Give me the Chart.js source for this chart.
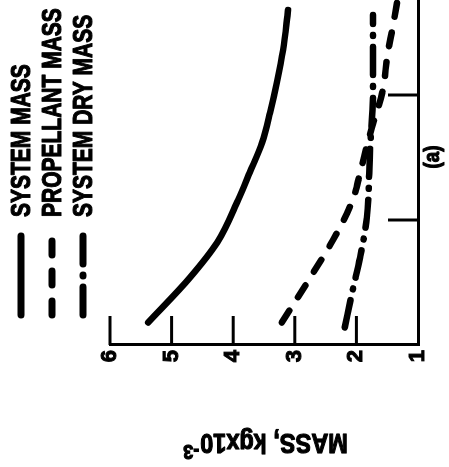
<!DOCTYPE html>
<html>
<head>
<meta charset="utf-8">
<script src="https://cdn.jsdelivr.net/npm/chart.js@4/dist/chart.umd.min.js"></script>
<style>
  html, body { margin: 0; padding: 0; background: #fff; overflow: hidden; width: 449px; height: 467px; }
  #wrap { position: absolute; left: 0; top: 0; width: 467px; height: 449px;
          transform-origin: 0 0; transform: translate(0px, 467px) rotate(-90deg); background: #fff; }
</style>
</head>
<body>
<div id="wrap"><canvas id="c" width="467" height="449"></canvas></div>
<script>
// ---- data (x: unlabeled abscissa, y: mass, kg x 10^-3) ----
const seriesLabels = ["SYSTEM MASS", "PROPELLANT MASS", "SYSTEM DRY MASS"];
const systemMassX = [0.18, 0.54, 0.82, 1.16, 1.38, 1.62, 1.86, 2.10, 2.36, 2.68];
const systemMassY = [5.38, 4.70, 4.26, 3.92, 3.73, 3.53, 3.40, 3.29, 3.19, 3.11];
const propellantX = [0.18, 0.50, 0.84, 1.16, 1.38, 1.74, 2.02, 2.34, 2.54, 2.80];
const propellantY = [3.21, 2.80, 2.38, 2.06, 1.94, 1.75, 1.58, 1.49, 1.41, 1.32];
const dryMassX = [0.14, 0.44, 0.70, 1.02, 1.56, 2.02, 2.64];
const dryMassY = [2.19, 2.06, 1.94, 1.83, 1.78, 1.73, 1.73];
const massTicks = [1, 2, 3, 4, 5, 6];
const xTicks = [1, 2];
const axisTitleBase = "MASS, kgx10";
const axisTitleSup = "-3";
const panelLabel = "(a)";

const FONT = "'Liberation Sans', Arial, sans-serif";
const pts = (xs, ys) => xs.map((x, i) => ({ x: x, y: ys[i] }));

const dashes = [[], [14, 16], [28, 11, 1, 11]];

// horizontally condensed, heavy lettering (like the original stencil text)
function narrowText(ctx, text, x, y, size, sx, align) {
  ctx.save();
  ctx.font = "bold " + size + "px " + FONT;
  ctx.textBaseline = 'middle';
  ctx.textAlign = 'left';
  const w = ctx.measureText(text).width * sx;
  let x0 = x;
  if (align === 'center') x0 = x - w / 2;
  ctx.translate(x0, y);
  ctx.scale(sx, 1);
  ctx.lineWidth = 1.2;
  ctx.lineJoin = 'round';
  ctx.setLineDash([]);
  ctx.strokeText(text, 0, 0);
  ctx.fillText(text, 0, 0);
  ctx.restore();
  return w;
}
function textWidth(ctx, text, size, sx) {
  ctx.save();
  ctx.font = "bold " + size + "px " + FONT;
  const w = ctx.measureText(text).width * sx;
  ctx.restore();
  return w;
}

const decorations = {
  id: 'decorations',
  afterDraw(chart) {
    const ctx = chart.ctx, ca = chart.chartArea;
    const ys = chart.scales.y, xs = chart.scales.x;
    ctx.save();
    ctx.strokeStyle = '#000';
    ctx.fillStyle = '#000';
    ctx.lineWidth = 3;
    // inward ticks
    massTicks.forEach(v => {
      if (v === ys.min) return;
      const p = ys.getPixelForValue(v);
      ctx.beginPath(); ctx.moveTo(ca.left, p); ctx.lineTo(ca.left + 29, p); ctx.stroke();
    });
    xTicks.forEach(v => {
      const p = xs.getPixelForValue(v);
      ctx.beginPath(); ctx.moveTo(p, ca.bottom); ctx.lineTo(p, ca.bottom - 30); ctx.stroke();
    });
    // y axis title (rotated, reads bottom to top) with superscript exponent
    ctx.save();
    ctx.translate(25, (ys.top + ys.bottom) / 2 + 2);
    ctx.rotate(-Math.PI / 2);
    const wb = textWidth(ctx, axisTitleBase, 28, 0.84);
    const wsup = textWidth(ctx, axisTitleSup, 20, 0.9);
    const x0 = -(wb + wsup) / 2;
    narrowText(ctx, axisTitleBase, x0, 0, 28, 0.84, 'left');
    narrowText(ctx, axisTitleSup, x0 + wb + 1, -9, 20, 0.9, 'left');
    ctx.restore();
    // panel label
    narrowText(ctx, panelLabel, 310, 433, 22, 0.85, 'center');
    // legend
    chart.data.datasets.forEach((ds, i) => {
      const y = 21 + i * 31;
      ctx.lineWidth = 7;
      ctx.lineCap = 'round';
      ctx.setLineDash(ds.borderDash || []);
      ctx.beginPath(); ctx.moveTo(152, y); ctx.lineTo(231, y); ctx.stroke();
      ctx.setLineDash([]);
      narrowText(ctx, ds.label, 250, y + 1, 28, 0.75, 'left');
    });
    ctx.restore();
  }
};

new Chart(document.getElementById('c'), {
  type: 'line',
  data: {
    datasets: [
      { label: seriesLabels[0], data: pts(systemMassX, systemMassY) },
      { label: seriesLabels[1], data: pts(propellantX, propellantY) },
      { label: seriesLabels[2], data: pts(dryMassX, dryMassY) }
    ].map((d, i) => Object.assign(d, {
      borderColor: '#000', borderWidth: 6.5, borderDash: dashes[i],
      borderCapStyle: 'round', borderJoinStyle: 'round',
      pointRadius: 0, fill: false, cubicInterpolationMode: 'monotone'
    }))
  },
  options: {
    responsive: false,
    animation: false,
    devicePixelRatio: 1,
    layout: { padding: { top: 110, right: 0, left: 0, bottom: 0 } },
    plugins: { legend: { display: false }, tooltip: { enabled: false }, title: { display: false } },
    scales: {
      x: {
        type: 'linear', min: 0, max: 2.76,
        grid: { display: false, drawTicks: false },
        border: { display: true, color: '#000', width: 3 },
        ticks: { display: false },
        afterFit(s) { s.height = 31; }
      },
      y: {
        type: 'linear', min: 1, max: 6,
        grid: { display: false, drawTicks: false },
        border: { display: true, color: '#000', width: 3 },
        ticks: {
          stepSize: 1, padding: 5, color: '#000',
          textStrokeColor: '#000', textStrokeWidth: 1,
          font: { family: FONT, size: 22, weight: 'bold' },
          callback: v => massTicks.includes(v) ? String(v) : ''
        },
        title: { display: false },
        afterFit(s) { s.width = 122; }
      }
    }
  },
  plugins: [decorations]
});
</script>
</body>
</html>
